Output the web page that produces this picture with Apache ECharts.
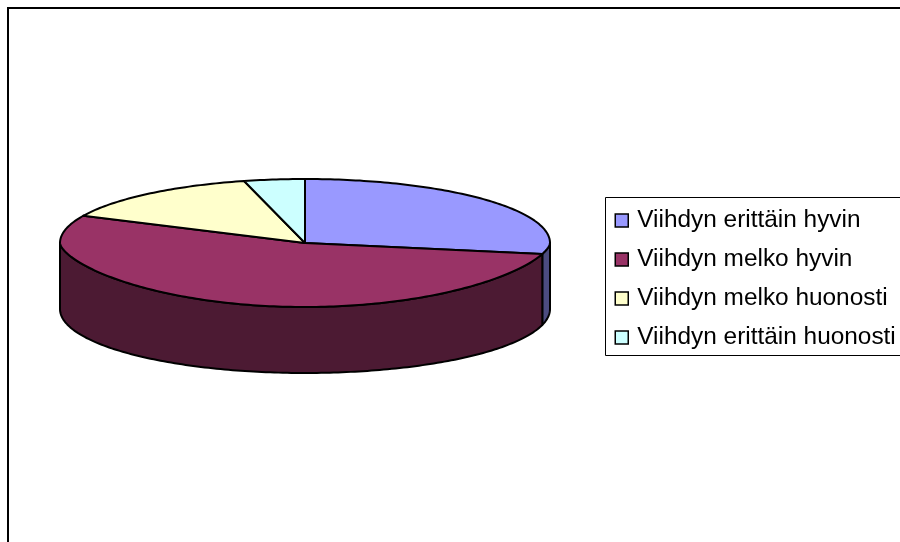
<!DOCTYPE html>
<html><head><meta charset="utf-8">
<style>html,body{margin:0;padding:0;background:#fff}#c{width:900px;height:542px}</style>
<script src="https://cdn.jsdelivr.net/npm/echarts@6/dist/echarts.min.js"></script>
</head><body><div id="c"></div>
<script>
const categories = ['Viihdyn erittäin hyvin','Viihdyn melko hyvin','Viihdyn melko huonosti','Viihdyn erittäin huonosti'];
const values = [29, 53, 14, 4];
const topColors = ['#9999ff','#993366','#ffffcc','#ccffff'];
const sideColors = ['#4c4c80','#4c1a33','#808066','#668080'];

const cx = 305, cy = 243, rx = 245, ry = 64, depth = 66, frontFlatten = 1.27;
const total = values.reduce((a,b)=>a+b,0);
function pt(deg, dy, p){
  const a = deg*Math.PI/180, c = Math.cos(a);
  const yy = c < 0 ? -Math.pow(-c, p) : c;
  return [cx + rx*Math.sin(a), cy - ry*yy + dy];
}
function arc(from,to,dy,p){
  const pts=[]; const n=Math.max(2,Math.ceil(Math.abs(to-from)));
  for(let i=0;i<=n;i++) pts.push(pt(from+(to-from)*i/n,dy,p));
  return pts;
}
const lineStyle = {stroke:'#000',lineWidth:2,lineJoin:'round'};
function renderSlice(idx){
  return function(params, api){
    let before=0; for(let i=0;i<idx;i++) before+=values[i];
    const start=before/total*360, end=(before+api.value(0))/total*360;
    const children=[];
    const s=Math.max(start,90), e=Math.min(end,270);
    if(e>s){
      children.push({type:'polygon',shape:{points:arc(s,e,0,frontFlatten).concat(arc(e,s,depth,1))},
        style:Object.assign({fill:sideColors[idx]},lineStyle)});
    }
    children.push({type:'polygon',shape:{points:[[cx,cy]].concat(arc(start,end,0,frontFlatten))},
      style:Object.assign({fill:topColors[idx]},lineStyle)});
    return {type:'group',children};
  };
}
const chart=echarts.init(document.getElementById('c'),null,{renderer:'canvas'});
chart.setOption({
  animation:false,
  backgroundColor:'#fff',
  color:topColors,
  graphic:[{type:'rect',silent:true,z:-1,shape:{x:8,y:8,width:1000,height:1000},style:{fill:'#fff',stroke:'#000',lineWidth:2}}],
  legend:{
    orient:'vertical',left:605.5,top:197.5,
    data:categories,
    icon:'rect',itemWidth:13,itemHeight:13,itemGap:7,
    padding:[7,100,2,9],
    borderColor:'#000',borderWidth:1,backgroundColor:'#fff',
    selectedMode:false,
    itemStyle:{borderColor:'#000',borderWidth:1.5},
    textStyle:{fontFamily:'"Liberation Sans",Arial,sans-serif',fontSize:24.4,color:'#000',padding:[0,0,8,4],lineHeight:24}
  },
  series:categories.map((name,i)=>({
    type:'custom',name,coordinateSystem:'none',
    itemStyle:{color:topColors[i]},
    renderItem:renderSlice(i),
    data:[[values[i]]]
  }))
});
</script></body></html>
